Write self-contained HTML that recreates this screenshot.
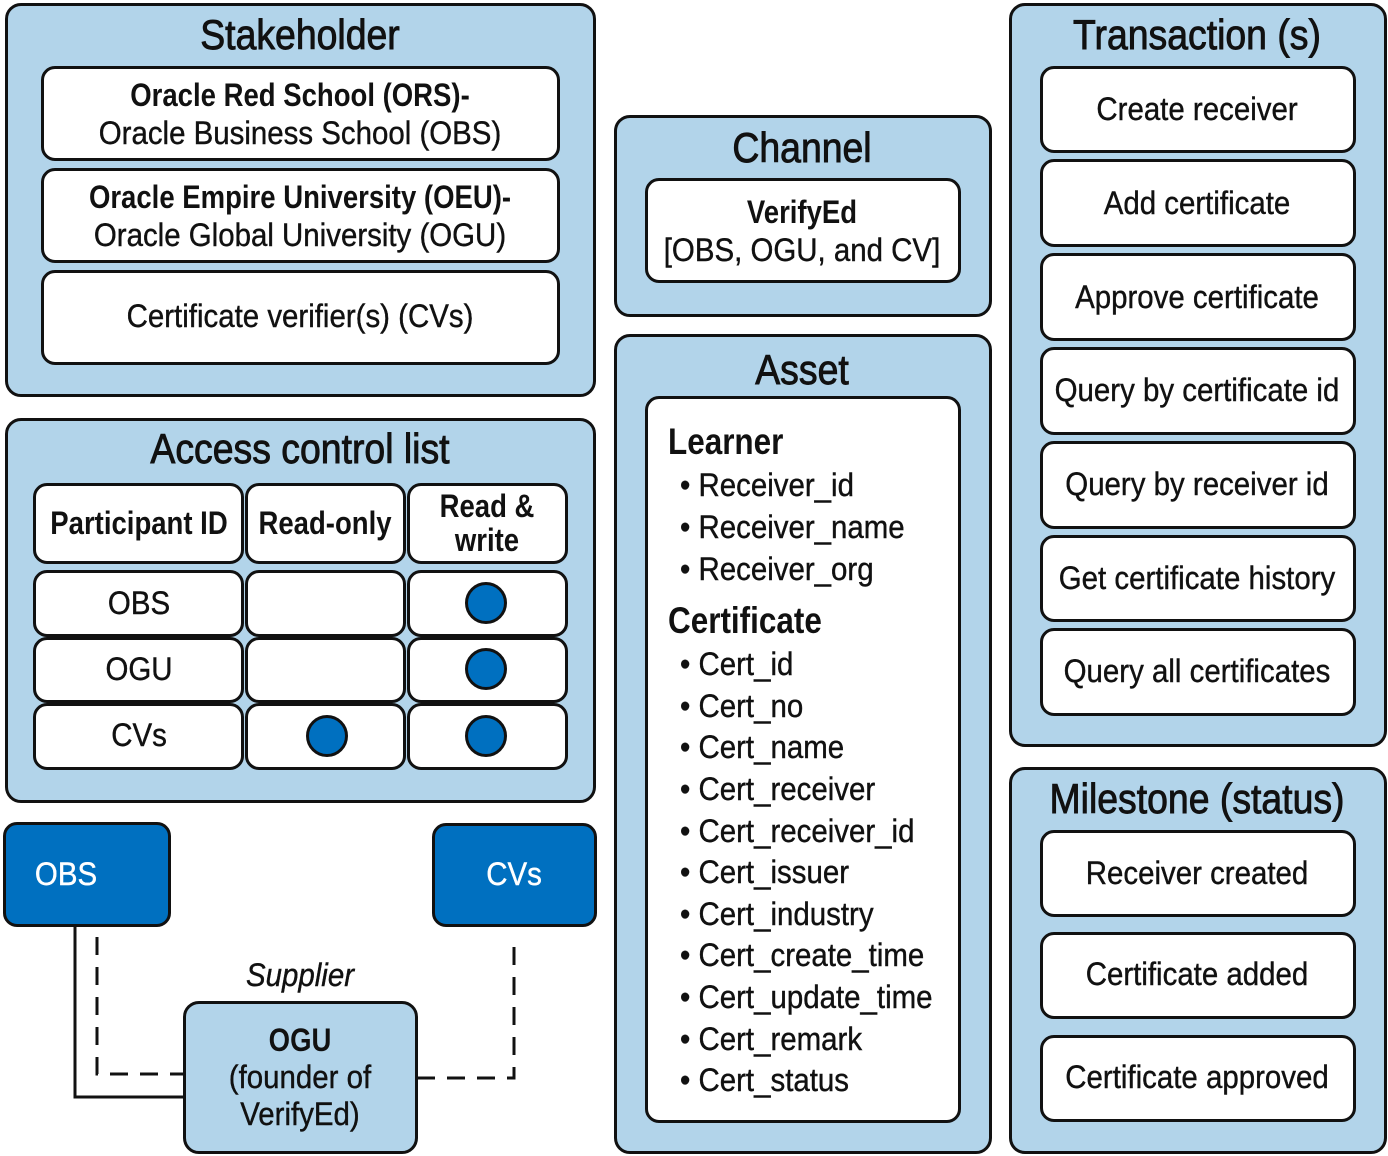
<!DOCTYPE html>
<html><head><meta charset="utf-8"><style>
body{margin:0;width:1388px;height:1156px;background:#fff;position:relative;overflow:hidden;font-family:"Liberation Sans",sans-serif;color:#111}
.b{position:absolute;box-sizing:border-box;border:3px solid #111;border-radius:14px;background:#fff}
.o{background:#b2d4ea;border-radius:16px}
.d{background:#0070c0}
.t{position:absolute;white-space:nowrap;transform:translateX(-50%) scaleX(.92);text-align:center;-webkit-text-stroke:0.4px currentColor}
.l{position:absolute;white-space:nowrap;transform:scaleX(.92);transform-origin:0 0;-webkit-text-stroke:0.4px currentColor}
.h{font-size:42px;line-height:42px;transform:translateX(-50%) scaleX(.89);-webkit-text-stroke:0.9px currentColor}
.m{font-size:32px;line-height:36px}
.bd{font-weight:bold;transform:translateX(-50%) scaleX(.86);-webkit-text-stroke:0}
.c{position:absolute;width:42px;height:42px;box-sizing:border-box;border:3px solid #111;border-radius:50%;background:#0070c0}
</style></head><body>
<svg style="position:absolute;left:0;top:0" width="1388" height="1156">
<polyline points="75,926 75,1097 185,1097" fill="none" stroke="#111" stroke-width="3"/>
<polyline points="97,937 97,1074 185,1074" fill="none" stroke="#111" stroke-width="3" stroke-dasharray="18,12"/>
<polyline points="417,1078 514,1078 514,937" fill="none" stroke="#111" stroke-width="3" stroke-dasharray="18,12"/>
</svg>

<!-- Stakeholder -->
<div class="b o" style="left:5px;top:3px;width:591px;height:394px"></div>
<div class="t h" style="left:300px;top:14px">Stakeholder</div>
<div class="b" style="left:41px;top:66px;width:519px;height:95px"></div>
<div class="t m bd" style="left:300px;top:77px">Oracle Red School (ORS)-</div>
<div class="t m" style="left:300px;top:115px">Oracle Business School (OBS)</div>
<div class="b" style="left:41px;top:168px;width:519px;height:95px"></div>
<div class="t m bd" style="left:300px;top:179px">Oracle Empire University (OEU)-</div>
<div class="t m" style="left:300px;top:217px">Oracle Global University (OGU)</div>
<div class="b" style="left:41px;top:270px;width:519px;height:95px"></div>
<div class="t m" style="left:300px;top:298px">Certificate verifier(s) (CVs)</div>

<!-- ACL -->
<div class="b o" style="left:5px;top:418px;width:591px;height:385px"></div>
<div class="t h" style="left:300px;top:428px">Access control list</div>
<div class="b" style="left:33px;top:483px;width:211px;height:81px"></div>
<div class="b" style="left:245px;top:483px;width:161px;height:81px"></div>
<div class="b" style="left:407px;top:483px;width:161px;height:81px"></div>
<div class="t m bd" style="left:139px;top:505px">Participant ID</div>
<div class="t m bd" style="left:325px;top:505px">Read-only</div>
<div class="t m bd" style="left:487px;top:488px">Read &amp;</div>
<div class="t m bd" style="left:487px;top:522px">write</div>

<div class="b" style="left:33px;top:570px;width:211px;height:67px"></div>
<div class="b" style="left:245px;top:570px;width:161px;height:67px"></div>
<div class="b" style="left:407px;top:570px;width:161px;height:67px"></div>
<div class="b" style="left:33px;top:637px;width:211px;height:66px"></div>
<div class="b" style="left:245px;top:637px;width:161px;height:66px"></div>
<div class="b" style="left:407px;top:637px;width:161px;height:66px"></div>
<div class="b" style="left:33px;top:703px;width:211px;height:67px"></div>
<div class="b" style="left:245px;top:703px;width:161px;height:67px"></div>
<div class="b" style="left:407px;top:703px;width:161px;height:67px"></div>
<div class="t m" style="left:139px;top:585px">OBS</div>
<div class="t m" style="left:139px;top:651px">OGU</div>
<div class="t m" style="left:139px;top:717px">CVs</div>
<div class="c" style="left:465px;top:582px"></div>
<div class="c" style="left:465px;top:648px"></div>
<div class="c" style="left:465px;top:715px"></div>
<div class="c" style="left:306px;top:715px"></div>

<!-- bottom left -->
<div class="b d" style="left:3px;top:822px;width:168px;height:105px"></div>
<div class="t m" style="left:66px;top:856px;color:#fff">OBS</div>
<div class="b d" style="left:432px;top:823px;width:165px;height:104px"></div>
<div class="t m" style="left:514px;top:856px;color:#fff">CVs</div>
<div class="t m" style="left:300px;top:957px;font-style:italic">Supplier</div>
<div class="b o" style="left:183px;top:1001px;width:235px;height:153px"></div>
<div class="t m bd" style="left:300px;top:1022px">OGU</div>
<div class="t m" style="left:300px;top:1059px">(founder of</div>
<div class="t m" style="left:300px;top:1096px">VerifyEd)</div>

<!-- Channel -->
<div class="b o" style="left:614px;top:115px;width:378px;height:202px"></div>
<div class="t h" style="left:802px;top:127px">Channel</div>
<div class="b" style="left:645px;top:178px;width:316px;height:105px"></div>
<div class="t m bd" style="left:802px;top:194px">VerifyEd</div>
<div class="t m" style="left:802px;top:232px">[OBS, OGU, and CV]</div>

<!-- Asset -->
<div class="b o" style="left:614px;top:334px;width:378px;height:820px"></div>
<div class="t h" style="left:802px;top:349px">Asset</div>
<div class="b" style="left:645px;top:396px;width:316px;height:727px"></div>
<div class="l" style="left:668px;top:422px;font-size:37px;line-height:40px;font-weight:bold;transform:scaleX(.85);-webkit-text-stroke:0">Learner</div>
<div class="l m" style="left:680px;top:467px">• Receiver_id</div>
<div class="l m" style="left:680px;top:509px">• Receiver_name</div>
<div class="l m" style="left:680px;top:551px">• Receiver_org</div>
<div class="l" style="left:668px;top:601px;font-size:37px;line-height:40px;font-weight:bold;transform:scaleX(.85);-webkit-text-stroke:0">Certificate</div>
<div class="l m" style="left:680px;top:646px">• Cert_id</div>
<div class="l m" style="left:680px;top:688px">• Cert_no</div>
<div class="l m" style="left:680px;top:729px">• Cert_name</div>
<div class="l m" style="left:680px;top:771px">• Cert_receiver</div>
<div class="l m" style="left:680px;top:813px">• Cert_receiver_id</div>
<div class="l m" style="left:680px;top:854px">• Cert_issuer</div>
<div class="l m" style="left:680px;top:896px">• Cert_industry</div>
<div class="l m" style="left:680px;top:937px">• Cert_create_time</div>
<div class="l m" style="left:680px;top:979px">• Cert_update_time</div>
<div class="l m" style="left:680px;top:1021px">• Cert_remark</div>
<div class="l m" style="left:680px;top:1062px">• Cert_status</div>

<!-- Transactions -->
<div class="b o" style="left:1009px;top:3px;width:378px;height:744px"></div>
<div class="t h" style="left:1197px;top:14px">Transaction (s)</div>
<div class="b" style="left:1040px;top:66px;width:316px;height:87px"></div>
<div class="t m" style="left:1197px;top:91px">Create receiver</div>
<div class="b" style="left:1040px;top:159px;width:316px;height:88px"></div>
<div class="t m" style="left:1197px;top:185px">Add certificate</div>
<div class="b" style="left:1040px;top:253px;width:316px;height:88px"></div>
<div class="t m" style="left:1197px;top:279px">Approve certificate</div>
<div class="b" style="left:1040px;top:347px;width:316px;height:88px"></div>
<div class="t m" style="left:1197px;top:372px">Query by certificate id</div>
<div class="b" style="left:1040px;top:441px;width:316px;height:88px"></div>
<div class="t m" style="left:1197px;top:466px">Query by receiver id</div>
<div class="b" style="left:1040px;top:535px;width:316px;height:87px"></div>
<div class="t m" style="left:1197px;top:560px">Get certificate history</div>
<div class="b" style="left:1040px;top:628px;width:316px;height:88px"></div>
<div class="t m" style="left:1197px;top:653px">Query all certificates</div>

<!-- Milestone -->
<div class="b o" style="left:1009px;top:767px;width:378px;height:387px"></div>
<div class="t h" style="left:1197px;top:778px">Milestone (status)</div>
<div class="b" style="left:1040px;top:830px;width:316px;height:87px"></div>
<div class="t m" style="left:1197px;top:855px">Receiver created</div>
<div class="b" style="left:1040px;top:932px;width:316px;height:87px"></div>
<div class="t m" style="left:1197px;top:956px">Certificate added</div>
<div class="b" style="left:1040px;top:1035px;width:316px;height:87px"></div>
<div class="t m" style="left:1197px;top:1059px">Certificate approved</div>
</body></html>
